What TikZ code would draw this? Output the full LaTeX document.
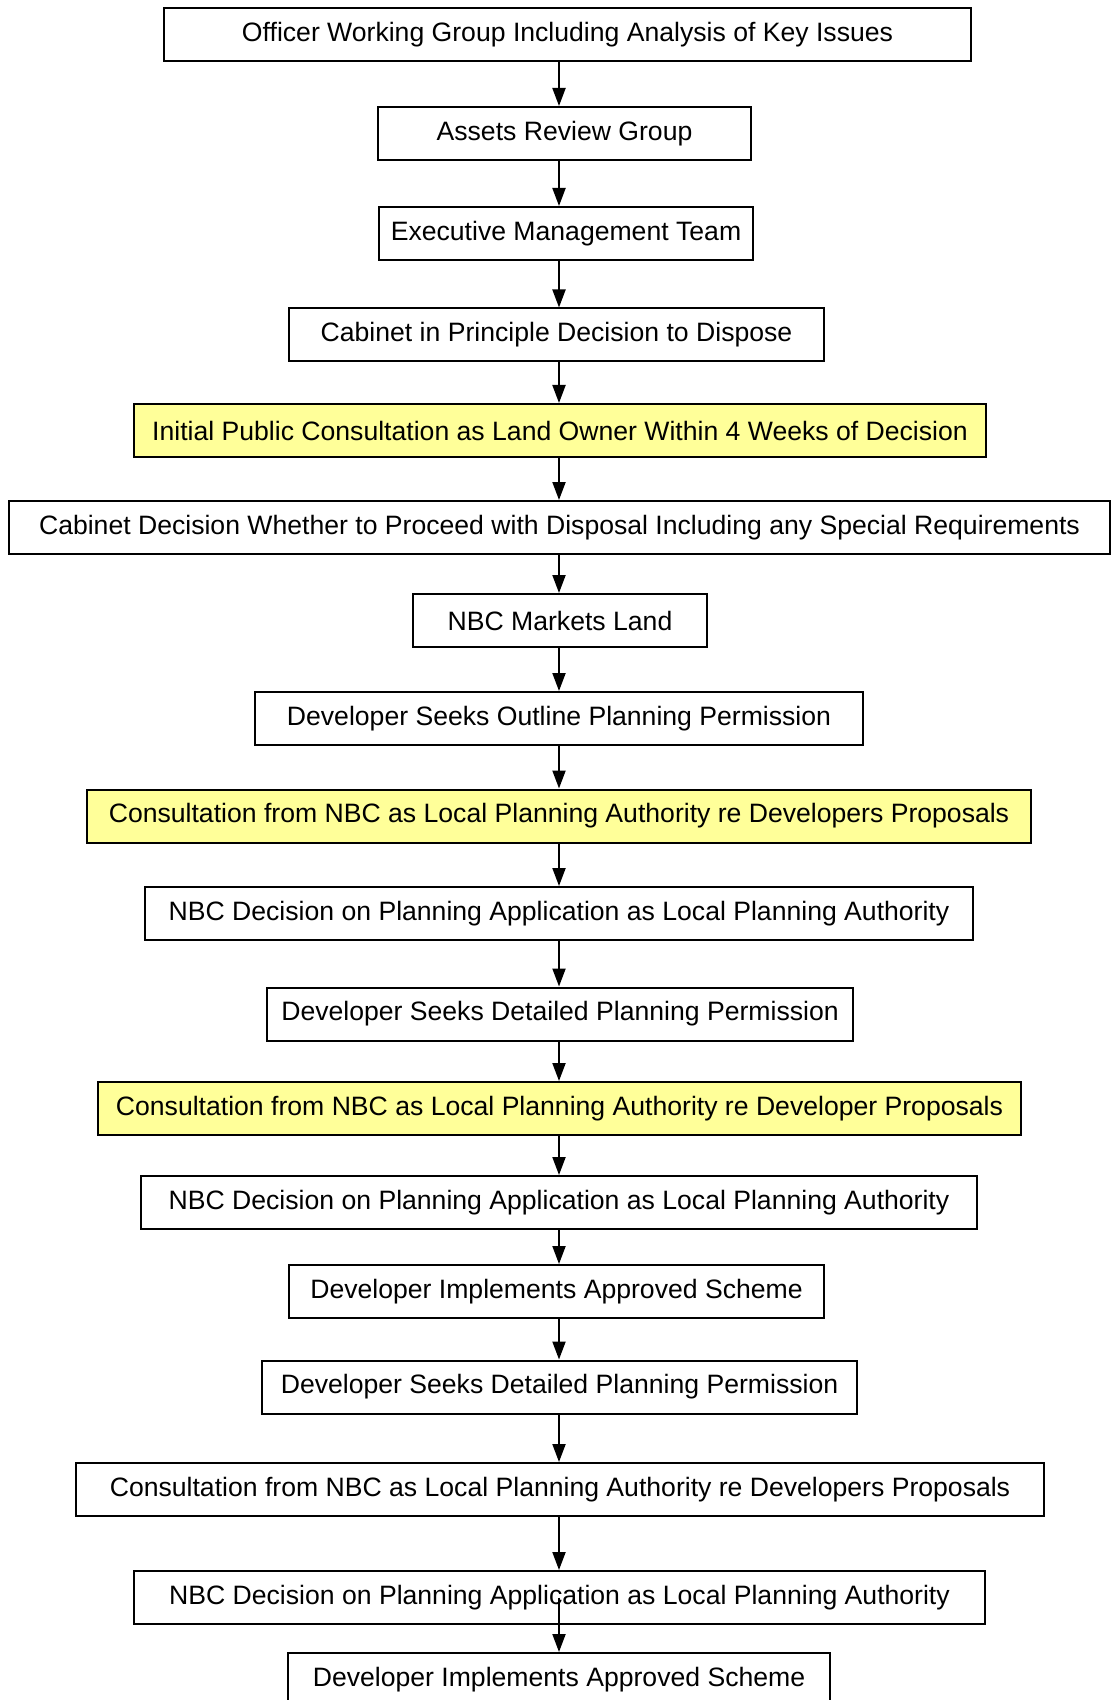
\documentclass[tikz,border=0pt]{standalone}
\usepackage{fontspec}
\setmainfont{Liberation Sans}
\usepackage{xcolor}
\usetikzlibrary{arrows.meta}
\definecolor{consult}{HTML}{FFFF99}

\begin{document}
\begin{tikzpicture}[
    x=0.5pt, y=-0.5pt,
    box/.style={rectangle, draw=black, line width=1pt, fill=white, inner sep=0pt, minimum height=26.5pt, align=center, font=\fontsize{13.3}{16}\selectfont},
    hilite/.style={box, fill=consult},
    arrow/.style={-{Triangle[length=9pt, width=6.5pt]}, line width=1pt},
]
\useasboundingbox (0,0) rectangle (1111,1700);
\coordinate (spine) at (559,0);

% Stage 1: internal review
\node[box, minimum width=403.5pt] (owg) at (567.5,35) {Officer Working Group Including Analysis of Key Issues};
\node[box, minimum width=186.5pt] (arg) at (564.5,133.5) {Assets Review Group};
\node[box, minimum width=187pt] (emt) at (566,233.5) {Executive Management Team};
\node[box, minimum width=267.5pt] (cab1) at (556.5,335) {Cabinet in Principle Decision to Dispose};

% Stage 2: land owner consultation
\node[hilite, minimum width=426pt] (pubcons) at (560,430.5) {Initial Public Consultation as Land Owner Within 4 Weeks of Decision};
\node[box, minimum width=550.5pt] (cab2) at (559.5,527.5) {Cabinet Decision Whether to Proceed with Disposal Including any Special Requirements};
\node[box, minimum width=147pt] (market) at (560,620.5) {NBC Markets Land};

% Stage 3: outline planning
\node[box, minimum width=304pt] (outline) at (559,718.5) {Developer Seeks Outline Planning Permission};
\node[hilite, minimum width=472pt] (cons1) at (559,816) {Consultation from NBC as Local Planning Authority re Developers Proposals};
\node[box, minimum width=414pt] (dec1) at (559,913.5) {NBC Decision on Planning Application as Local Planning Authority};

% Stage 4: detailed planning
\node[box, minimum width=293pt] (detail1) at (560,1014) {Developer Seeks Detailed Planning Permission};
\node[hilite, minimum width=461.5pt] (cons2) at (559.5,1108.5) {Consultation from NBC as Local Planning Authority re Developer Proposals};
\node[box, minimum width=418pt] (dec2) at (559,1202.5) {NBC Decision on Planning Application as Local Planning Authority};
\node[box, minimum width=267.5pt] (impl1) at (556.5,1291.5) {Developer Implements Approved Scheme};

% Stage 5: repeat
\node[box, minimum width=297.5pt] (detail2) at (559.5,1387) {Developer Seeks Detailed Planning Permission};
\node[box, minimum width=484pt] (cons3) at (560,1489.5) {Consultation from NBC as Local Planning Authority re Developers Proposals};
\node[box, minimum width=425.5pt] (dec3) at (559.5,1597.5) {NBC Decision on Planning Application as Local Planning Authority};
\node[box, minimum width=271pt] (impl2) at (559,1679.5) {Developer Implements Approved Scheme};

% Arrows, all on the spine
\foreach \a/\b in {owg/arg, arg/emt, emt/cab1, cab1/pubcons, pubcons/cab2, cab2/market,
    market/outline, outline/cons1, cons1/dec1, dec1/detail1, detail1/cons2, cons2/dec2,
    dec2/impl1, impl1/detail2, detail2/cons3, cons3/dec3}
  \draw[arrow] (\a.south -| spine) -- (\b.north -| spine);
\draw[arrow] (dec3.center -| spine) -- (impl2.north -| spine);

\end{tikzpicture}
\end{document}
